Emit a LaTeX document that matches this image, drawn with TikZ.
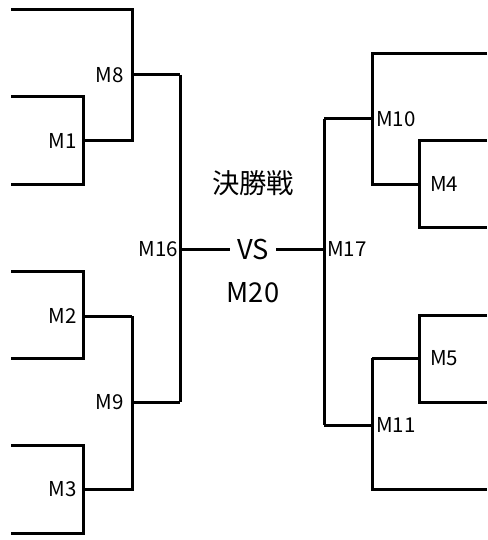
\documentclass[tikz,border=0pt]{standalone}
\usepackage{fontspec}
\setmainfont{Noto Sans CJK JP}
\tikzset{
  br/.style={line width=3pt, line join=miter, black},
  lbl/.style={inner sep=0pt, font=\fontsize{20.5}{22}\selectfont},
  big/.style={inner sep=0pt, font=\fontsize{27.3}{30}\selectfont},
}
\begin{document}
\begin{tikzpicture}[x=1pt,y=-1pt]
\useasboundingbox (0,0) rectangle (487,540);
% coordinates left
\coordinate (t0a) at (11,10);   \coordinate (t0b) at (132,10);
\coordinate (m8t) at (132,10);  \coordinate (m8b) at (132,141);
\coordinate (m8o) at (132,75);
\coordinate (m1a) at (11,97);   \coordinate (m1t) at (83,97);
\coordinate (m1b) at (83,184);  \coordinate (m1c) at (11,184);
\coordinate (m1o) at (83,141);
\coordinate (m16t) at (180,75); \coordinate (m16b) at (180,402);
\coordinate (m16o) at (180,249);
\coordinate (m2a) at (11,271);  \coordinate (m2t) at (83,271);
\coordinate (m2b) at (83,358);  \coordinate (m2c) at (11,358);
\coordinate (m2o) at (83,316);
\coordinate (m9t) at (132,316); \coordinate (m9b) at (132,489);
\coordinate (m9o) at (132,402);
\coordinate (m3a) at (11,445);  \coordinate (m3t) at (83,445);
\coordinate (m3b) at (83,533);  \coordinate (m3c) at (11,533);
\coordinate (m3o) at (83,489);
% coordinates right
\coordinate (r0a) at (487,54);  \coordinate (m10t) at (372,54);
\coordinate (m10b) at (372,184); \coordinate (m10o) at (372,119);
\coordinate (m4a) at (487,141); \coordinate (m4t) at (419,141);
\coordinate (m4b) at (419,227); \coordinate (m4c) at (487,227);
\coordinate (m4o) at (419,184);
\coordinate (m17t) at (324,119); \coordinate (m17b) at (324,425);
\coordinate (m17o) at (324,249);
\coordinate (m5a) at (487,315); \coordinate (m5t) at (419,315);
\coordinate (m5b) at (419,402); \coordinate (m5c) at (487,402);
\coordinate (m5o) at (419,358);
\coordinate (m11t) at (372,358); \coordinate (m11b) at (372,489);
\coordinate (m11o) at (372,425);
\coordinate (r1a) at (487,489);
% labels
\node[lbl, anchor=east] (lm8) at (124,75) {M8};
\node[lbl, anchor=east] (lm1) at (77,141) {M1};
\node[lbl, anchor=east] (lm16) at (178,249) {M16};
\node[lbl, anchor=east] (lm2) at (77,316) {M2};
\node[lbl, anchor=east] (lm9) at (124,402) {M9};
\node[lbl, anchor=east] (lm3) at (77,489) {M3};
\node[lbl, anchor=west] (lm10) at (376,119) {M10};
\node[lbl, anchor=west] (lm4) at (430,184) {M4};
\node[lbl, anchor=west] (lm17) at (327,249) {M17};
\node[lbl, anchor=west] (lm5) at (430,358) {M5};
\node[lbl, anchor=west] (lm11) at (376,425) {M11};
\node[big] (final) at (253,183) {決勝戦};
\node[big, inner xsep=7pt] (vs) at (253,249) {VS};
\node[big] (m20) at (253,293) {M20};
% left brackets
\draw[br] (t0a) -- (m8t) -- (m8b) -- (m1o);
\draw[br] (m1a) -- (m1t) -- (m1b) -- (m1c);
\draw[br] (m8o) -- (m16t);
\draw[br] (m16t) -- (m16b);
\draw[br] (m16o) -- (vs.west);
\draw[br] (m2a) -- (m2t) -- (m2b) -- (m2c);
\draw[br] (m2o) -- (m9t);
\draw[br] (m9t) -- (m9b) -- (m3o);
\draw[br] (m9o) -- (m16b);
\draw[br] (m3a) -- (m3t) -- (m3b) -- (m3c);
% right brackets
\draw[br] (r0a) -- (m10t) -- (m10b) -- (m4o);
\draw[br] (m4a) -- (m4t) -- (m4b) -- (m4c);
\draw[br] (m10o) -- (m17t);
\draw[br] (m17t) -- (m17b);
\draw[br] (vs.east) -- (m17o);
\draw[br] (m5a) -- (m5t) -- (m5b) -- (m5c);
\draw[br] (m5o) -- (m11t);
\draw[br] (m11t) -- (m11b) -- (r1a);
\draw[br] (m11o) -- (m17b);
\end{tikzpicture}
\end{document}
